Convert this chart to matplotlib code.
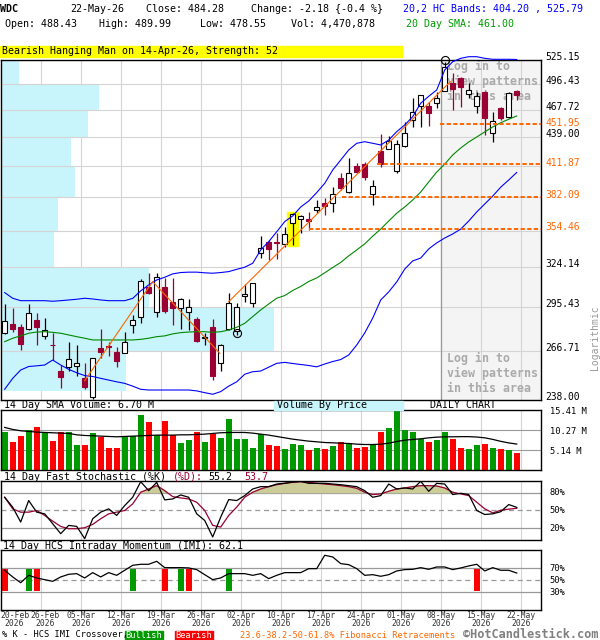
import numpy as np
import matplotlib
matplotlib.use('Agg')
import matplotlib.pyplot as plt
from matplotlib.patches import Rectangle
from matplotlib.ticker import NullLocator
from matplotlib.transforms import blended_transform_factory as blend

# ---- data (WDC daily, 20-Feb-2026 .. 22-May-2026) ----
opens = [278.0, 283.9, 281.9, 280.8, 286.7, 276.3, 270.8, 254.6, 256.9, 257.7,
         250.3, 239.5, 268.7, 269.9, 266.0, 265.8, 283.4, 288.5, 309.4, 291.9,
         309.4, 299.2, 294.7, 291.9, 287.2, 275.0, 282.3, 259.2, 280.6, 279.6,
         303.2, 298.1, 334.9, 344.1, 344.1, 342.3, 359.1, 362.5, 362.5, 370.4,
         376.7, 376.7, 399.3, 386.5, 410.6, 412.2, 384.2, 425.2, 426.9, 405.8,
         430.2, 456.7, 472.2, 472.2, 474.9, 489.0, 498.2, 503.3, 485.3, 471.9,
         487.1, 442.8, 469.2, 459.5, 488.43]
highs = [297.6, 294.7, 283.9, 297.6, 291.2, 287.9, 278.0, 258.2, 272.6, 270.5,
         259.2, 262.5, 280.8, 272.6, 269.1, 278.8, 290.1, 315.2, 319.6, 319.6,
         316.0, 316.0, 302.0, 300.9, 288.5, 278.0, 287.2, 270.9, 305.6, 298.1,
         311.6, 312.3, 348.6, 345.4, 350.8, 356.3, 367.4, 365.8, 368.5, 379.1,
         380.6, 391.0, 403.4, 417.7, 413.5, 414.5, 397.2, 442.1, 440.0, 435.9,
         454.9, 480.4, 484.4, 476.6, 487.9, 523.0, 509.1, 505.2, 497.5, 487.1,
         488.2, 465.0, 470.3, 487.5, 489.99]
lows = [277.6, 279.0, 267.4, 280.3, 270.5, 274.1, 261.2, 244.5, 254.6, 251.4,
        244.0, 238.3, 262.6, 263.7, 257.3, 265.4, 278.0, 284.5, 304.5, 289.0,
        291.2, 283.4, 280.6, 280.1, 272.6, 270.5, 249.3, 254.6, 280.1, 276.9,
        299.2, 295.8, 331.0, 329.7, 330.2, 340.1, 341.4, 351.3, 353.5, 367.6,
        366.2, 369.0, 388.0, 385.0, 403.4, 397.2, 374.8, 409.6, 426.5, 404.1,
        429.2, 449.6, 449.0, 450.4, 469.2, 488.5, 467.5, 471.1, 480.4, 464.6,
        441.0, 434.2, 456.7, 458.5, 478.55]
closes = [286.2, 280.6, 270.9, 291.2, 282.3, 279.9, 270.4, 251.1, 261.6, 259.2,
          245.1, 262.2, 266.4, 269.1, 260.8, 272.2, 286.7, 314.0, 305.1, 317.2,
          293.0, 294.7, 300.9, 295.8, 273.3, 275.6, 251.4, 270.4, 298.1, 295.4,
          304.4, 312.3, 338.8, 338.0, 342.8, 350.0, 366.8, 365.3, 361.1, 373.3,
          373.8, 384.4, 389.5, 403.4, 404.4, 400.3, 391.6, 412.2, 434.9, 431.6,
          442.8, 465.0, 483.7, 463.9, 480.4, 517.1, 490.6, 493.6, 489.8, 482.6,
          458.5, 456.0, 458.5, 486.46, 484.28]

band_upper = [305.6, 301.6, 299.9, 299.9, 299.9, 299.9, 299.5, 299.9, 300.4, 300.9,
              301.6, 301.1, 300.4, 299.9, 299.9, 299.9, 301.5, 306.8, 311.1, 314.7,
              316.7, 319.2, 320.2, 320.5, 320.5, 320.0, 319.7, 320.2, 320.9, 322.6,
              324.2, 327.2, 337.5, 344.1, 352.1, 360.5, 365.3, 373.0, 378.2, 385.7,
              394.1, 406.5, 416.1, 425.9, 432.6, 434.2, 432.6, 430.9, 435.9, 444.5,
              451.5, 460.3, 474.9, 482.6, 489.8, 513.1, 523.1, 527.2, 529.2, 529.2,
              527.2, 526.0, 526.0, 526.0, 525.79]
sma20 = [272.6, 274.8, 276.3, 278.0, 278.8, 279.0, 278.6, 278.0, 276.9, 275.8,
         274.8, 273.7, 273.7, 273.7, 273.7, 273.7, 273.7, 274.1, 274.8, 275.8,
         276.3, 277.6, 278.4, 278.8, 279.0, 279.0, 278.6, 279.0, 280.1, 281.9,
         284.5, 289.0, 293.5, 297.6, 301.6, 303.5, 307.1, 310.0, 313.6, 316.2,
         320.0, 324.0, 327.8, 332.9, 337.5, 342.3, 348.5, 354.3, 361.0, 367.6,
         373.0, 379.1, 386.2, 395.4, 404.6, 412.2, 421.0, 427.9, 433.9, 439.0,
         444.2, 449.4, 453.8, 457.5, 461.0]
band_lower = [244.0, 250.3, 255.2, 257.3, 257.7, 258.2, 261.2, 258.2, 255.6, 253.6,
              251.9, 251.4, 250.3, 249.3, 248.3, 247.4, 245.8, 244.0, 243.6, 243.6,
              243.6, 243.6, 243.6, 243.6, 243.1, 242.1, 241.2, 242.7, 245.8, 248.3,
              252.7, 254.2, 254.6, 256.9, 259.2, 259.8, 259.1, 258.5, 257.9, 257.1,
              258.8, 260.3, 261.5, 264.3, 270.5, 278.2, 288.0, 300.4, 306.1, 313.3,
              322.8, 329.0, 331.2, 338.3, 343.1, 347.0, 350.3, 354.3, 361.0, 368.7,
              375.6, 382.6, 390.6, 397.2, 404.2]

volume_m = [9.84, 7.28, 8.82, 10.27, 11.13, 9.76, 7.53, 9.76, 9.76, 6.42,
            6.42, 9.50, 8.56, 5.65, 5.65, 8.39, 8.73, 14.12, 12.33, 8.90,
            12.58, 8.90, 7.02, 7.70, 9.76, 7.19, 9.24, 8.22, 13.10, 7.96,
            7.96, 5.65, 9.24, 6.42, 6.16, 5.39, 6.68, 6.42, 5.14, 5.65,
            5.39, 6.16, 7.19, 6.93, 5.65, 5.91, 6.76, 9.76, 10.79, 15.15,
            10.27, 9.76, 8.05, 7.19, 7.70, 9.76, 7.96, 5.65, 5.39, 6.42,
            6.68, 5.82, 5.39, 5.14, 4.47]
vol_sma14 = [10.96, 10.44, 10.10, 9.93, 9.76, 9.67, 9.59, 9.50, 9.42, 9.07,
             8.90, 8.82, 8.73, 8.65, 8.56, 8.65, 8.73, 8.82, 8.90, 8.99,
             8.99, 8.99, 9.07, 9.07, 9.16, 9.24, 9.42, 9.59, 9.67, 9.67,
             9.67, 9.50, 9.24, 8.99, 8.65, 8.30, 7.96, 7.70, 7.45, 7.28,
             7.10, 7.02, 6.93, 6.85, 6.68, 6.59, 6.59, 6.68, 6.93, 7.36,
             7.70, 7.88, 8.05, 8.30, 8.47, 8.56, 8.56, 8.60, 8.60, 8.50,
             8.30, 7.90, 7.40, 7.00, 6.70]

stoch_k = [72.2, 55.6, 30.6, 66.7, 47.2, 44.4, 27.8, 11.1, 25.0, 23.3,
           2.8, 36.1, 47.2, 52.8, 41.7, 58.3, 72.2, 98.3, 83.3, 97.2,
           67.8, 69.4, 76.1, 72.2, 44.4, 33.3, 5.6, 38.9, 68.3, 66.7,
           75.0, 86.1, 90.0, 90.0, 94.4, 95.6, 97.8, 98.9, 95.6, 95.6,
           95.6, 94.4, 93.3, 91.7, 90.0, 83.3, 72.2, 75.0, 94.4, 86.1,
           87.8, 86.1, 98.9, 82.2, 95.6, 94.4, 76.7, 78.9, 76.7, 50.0,
           43.3, 44.4, 48.0, 60.0, 55.2]
stoch_d = [72.2, 52.8, 47.2, 47.2, 50.0, 41.7, 32.2, 23.3, 19.4, 19.4,
           21.1, 26.7, 36.1, 44.4, 47.2, 50.0, 61.1, 80.6, 86.1, 91.7,
           83.3, 73.3, 71.1, 69.4, 63.9, 50.0, 25.0, 22.2, 41.7, 55.6,
           72.2, 80.6, 86.1, 90.0, 93.3, 95.6, 97.2, 98.3, 97.2, 95.6,
           94.4, 93.3, 91.7, 90.0, 87.2, 80.6, 76.7, 77.8, 82.2, 86.1,
           87.8, 90.0, 91.7, 91.7, 91.1, 87.8, 80.6, 77.8, 75.0, 63.9,
           52.8, 46.0, 50.5, 52.2, 53.7]

imi = [66.7, 55.6, 46.0, 58.3, 53.9, 51.1, 48.3, 55.6, 60.0, 61.1,
       53.9, 62.8, 55.6, 62.8, 58.3, 66.7, 75.0, 76.7, 76.7, 81.7,
       71.1, 71.1, 71.1, 70.6, 67.8, 59.4, 51.1, 53.9, 61.1, 61.1,
       61.1, 58.3, 61.1, 52.8, 58.3, 62.8, 62.8, 62.8, 69.4, 69.4,
       91.7, 88.9, 77.8, 76.1, 69.4, 58.3, 59.4, 56.7, 59.4, 65.6,
       67.8, 68.3, 71.1, 68.3, 72.2, 72.2, 67.8, 70.6, 73.9, 76.7,
       65.6, 71.1, 66.7, 66.7, 62.1]
bull_cross = [3, 16, 22, 28]
bear_cross = [0, 4, 20, 23, 59]

# volume by price, share of volume per price band (lowest band first)
vbp_share = [12.5, 27.2, 14.8, 5.3, 5.7, 7.4, 7.0, 8.7, 9.8, 1.8]
vbp_low = 243.0

# orange trend lines (bar index, price)
trend_a_x = [10.0, 18.5, 26.9]
trend_a_y = [248.9, 313.5, 265.3]
trend_b_x = [28.0, 55.7]
trend_b_y = [299.2, 499.3]

fib_levels = [451.95, 411.87, 382.09, 354.46]
fib_start = [54.4, 46.5, 42.1, 38.0]

price_labels = [525.15, 496.43, 467.72, 439.00, 324.14, 295.43, 266.71, 238.00]
pattern_idx = 36
circle_pts = [(29, 278.0), (55, 525.15)]

tick_idx = [4, 9, 14, 19, 24, 29, 34, 39, 44, 49, 54, 59, 64]
tick_lbl = ['26-Feb', '05-Mar', '12-Mar', '19-Mar', '26-Mar', '02-Apr', '10-Apr',
            '17-Apr', '24-Apr', '01-May', '08-May', '15-May', '22-May']

# ---- drawing ----
plt.rcParams['font.family'] = ['DejaVu Sans Mono', 'DejaVu Sans']
W, H = 600, 640
fig = plt.figure(figsize=(6, 6.4), dpi=100)

maroon = '#990033'
orange = '#ff6600'
gridc = '#d4d4d4'
panelc = '#999999'
XL = (-0.46, 66.97)

idx = np.arange(len(closes))
o, hi, lo, c = map(np.array, (opens, highs, lows, closes))
up = c >= o
gx = np.array(tick_idx) + 0.5


def box(x0, y0, x1, y1):
    return [x0 / W, 1 - y1 / H, (x1 - x0) / W, (y1 - y0) / H]


def ftext(x, y, s, **kw):
    kw.setdefault('va', 'center')
    kw.setdefault('fontsize', 7.2)
    fig.text(x / W, 1 - y / H, s, **kw)


def clean(a):
    a.tick_params(which='both', left=False, bottom=False,
                  labelleft=False, labelbottom=False)
    a.yaxis.set_minor_locator(NullLocator())
    a.set_xlim(XL)
    for s in a.spines.values():
        s.set_linewidth(1.0)
    for g in gx:
        a.axvline(g, color=gridc, lw=0.8, zorder=0.6)


# main price chart
ax = fig.add_axes(box(1, 60, 540.5, 400))
ax.set_yscale('log')
ax.set_ylim(238, 525.15)
clean(ax)
levels = np.linspace(238, 525.15, 11)
for lv in levels:
    ax.axhline(lv, color=gridc, lw=0.8, zorder=1.5)

edges = levels.copy()
edges[0] = vbp_low
share = np.array(vbp_share)
ax.barh(edges[:-1], share / share.max() * 34.1, height=np.diff(edges),
        left=XL[0], align='edge', color='#c8f4fb', zorder=1)

ax.axvspan(54.5, XL[1], color='#f4f4f4', zorder=0)
ax.axvline(54.5, color='#999999', lw=0.9, zorder=1.6)

for k, line in enumerate(['Log in to', 'view patterns', 'in this area']):
    for y0 in (66.7, 358.7):
        ax.text((447 - 1) / 539.5, 1 - (y0 + 15 * k - 60) / 340, line,
                transform=ax.transAxes, fontsize=8.4, fontweight='bold',
                color='#aaaaaa', va='center', zorder=1.7)

ax.add_patch(Rectangle((pattern_idx - 0.7, lo[pattern_idx] * 0.997), 1.35,
                       hi[pattern_idx] * 1.004 - lo[pattern_idx] * 0.997,
                       color='#ffff00', zorder=2.5))

ax.vlines(idx, lo, hi, colors=np.where(up, 'black', maroon), lw=0.9, zorder=3)
bot = np.minimum(o, c)
ht = np.maximum(np.abs(c - o), np.maximum(o, c) * 0.0015)
ax.bar(idx[up], ht[up], bottom=bot[up], width=0.66, facecolor='white',
       edgecolor='black', lw=0.8, zorder=4)
ax.bar(idx[~up], ht[~up], bottom=bot[~up], width=0.66, facecolor=maroon,
       edgecolor=maroon, lw=0.8, zorder=4)

ax.plot(idx, band_upper, color='#0000ff', lw=0.8, zorder=5, clip_on=False)
ax.plot(idx, band_lower, color='#0000ff', lw=0.8, zorder=5)
ax.plot(idx, sma20, color='#008800', lw=0.8, zorder=5)
ax.plot(trend_a_x, trend_a_y, color=orange, lw=0.8, zorder=5)
ax.plot(trend_b_x, trend_b_y, color=orange, lw=0.8, zorder=5)
for lv, st in zip(fib_levels, fib_start):
    ax.hlines(lv, st, XL[1], colors=orange, lw=1.4, linestyles=(0, (2.2, 1.2)),
              zorder=5)
for px, py in circle_pts:
    ax.plot(px, py, 'o', mfc='none', mec='black', mew=0.8, ms=5.8, zorder=6,
            clip_on=False)

tr_main = blend(fig.transFigure, ax.transData)
for v in price_labels:
    ax.annotate(f'{v:.2f}', xy=(545 / W, v), xycoords=tr_main, xytext=(0, 2.2),
                textcoords='offset points', va='center', fontsize=6.9)
for v in fib_levels:
    ax.annotate(f'{v:.2f}', xy=(545 / W, v), xycoords=tr_main, xytext=(0, 1.1),
                textcoords='offset points', va='center', fontsize=6.9,
                color=orange)
ftext(595, 338, 'Logarithmic', rotation=90, ha='center', color='#999999',
      fontsize=7.0)

# volume panel
axv = fig.add_axes(box(1, 410, 540.5, 470.3))
axv.set_ylim(0, 15.41)
clean(axv)
for lv in (5.14, 10.27):
    axv.axhline(lv, color=panelc, lw=0.8, zorder=0.7)
axv.bar(idx, volume_m, width=0.72, color=np.where(up, '#009900', '#ff0000'),
        zorder=2)
axv.plot(idx, vol_sma14, color='black', lw=0.9, zorder=3)
tr_vol = blend(fig.transFigure, axv.transData)
for v in (15.41, 10.27, 5.14):
    axv.annotate(f'{v:.2f} M', xy=(550 / W, v), xycoords=tr_vol,
                 xytext=(0, -1.2), textcoords='offset points', va='center',
                 fontsize=6.3)

# stochastic panel
axs = fig.add_axes(box(1, 480.7, 540.5, 540.3))
axs.set_ylim(0, 100)
clean(axs)
axs.axhline(80, color=panelc, lw=0.9, zorder=0.7)
axs.axhline(20, color=panelc, lw=0.9, zorder=0.7)
axs.axhline(50, color=panelc, lw=0.9, ls=(0, (4, 3)), zorder=0.7)
sd = np.array(stoch_d)
axs.fill_between(idx, 80, sd, where=sd >= 80, interpolate=True,
                 color='#cccc99', zorder=1)
axs.plot(idx, stoch_k, color='black', lw=0.9, zorder=3)
axs.plot(idx, stoch_d, color=maroon, lw=0.9, zorder=2)
tr_s = blend(fig.transFigure, axs.transData)
for v in (80, 50, 20):
    axs.text(549 / W, v, f'{v}%', transform=tr_s, va='center', fontsize=6.3)

# IMI panel
axi = fig.add_axes(box(1, 550.3, 540.5, 610.3))
axi.set_ylim(0, 100)
clean(axi)
axi.axhline(70, color=panelc, lw=0.9, zorder=0.7)
axi.axhline(30, color=panelc, lw=0.9, zorder=0.7)
axi.axhline(50, color=panelc, lw=0.9, ls=(0, (4, 3)), zorder=0.7)
axi.bar(bull_cross, 36, bottom=32, width=0.75, color='#009900', zorder=2)
axi.bar(bear_cross, 36, bottom=32, width=0.75, color='#ff0000', zorder=2)
axi.plot(idx, imi, color='black', lw=0.9, zorder=3)
tr_i = blend(fig.transFigure, axi.transData)
for v in (70, 50, 30):
    axi.text(549 / W, v, f'{v}%', transform=tr_i, va='center', fontsize=6.3)

tr_d = blend(axi.transData, fig.transFigure)
for k, (t, lbl) in enumerate(zip(gx, tick_lbl)):
    xo = t + (0.6 if k == 0 else 0)
    axi.text(xo, 1 - 616 / H, lbl, transform=tr_d, ha='center', va='center',
             fontsize=5.8, color='#333333')
    axi.text(xo, 1 - 624 / H, '2026', transform=tr_d, ha='center', va='center',
             fontsize=5.8, color='#333333')
ftext(0, 616, '20-Feb', fontsize=5.8, color='#333333')
ftext(4, 624, '2026', fontsize=5.8, color='#333333')

# header and panel titles
ftext(0, 9, 'WDC', fontweight='bold')
ftext(70, 9, '22-May-26')
ftext(146, 9, 'Close: 484.28')
ftext(251, 9, 'Change: -2.18 {-0.4 %}')
ftext(403, 9, '20,2 HC Bands: 404.20 , 525.79', color='#0000ff')
ftext(5, 24, 'Open: 488.43')
ftext(99, 24, 'High: 489.99')
ftext(200, 24, 'Low: 478.55')
ftext(291, 24, 'Vol: 4,470,878')
ftext(406, 24, '20 Day SMA: 461.00', color='#009900')

fig.patches.append(Rectangle((0, 1 - 56.7 / H), 402 / W, 11 / H,
                             transform=fig.transFigure, color='#ffff00'))
ftext(2, 51.5, 'Bearish Hanging Man on 14-Apr-26, Strength: 52')

ftext(4, 405, '14 Day SMA Volume: 6.70 M')
fig.patches.append(Rectangle((274 / W, 1 - 410 / H), 129 / W, 9.5 / H,
                             transform=fig.transFigure, color='#c8f4fb'))
ftext(277, 405.5, 'Volume By Price')
ftext(430, 405.5, 'DAILY CHART')

cw = 6.02  # monospace advance in px at 7.2 pt
ftext(4, 476.5, '14 Day Fast Stochastic (%K)')
ftext(4 + 28 * cw, 476.5, '(%D):', color=maroon)
ftext(4 + 34 * cw, 476.5, '55.2')
ftext(4 + 40 * cw, 476.5, '53.7', color=maroon)
ftext(3, 546, '14 Day HCS Intraday Momentum (IMI): 62.1')

# footer
ftext(2, 635, '% K - HCS IMI Crossover,', fontsize=6.2)
fig.patches.append(Rectangle((125 / W, 1 - 639.5 / H), 38 / W, 9 / H,
                             transform=fig.transFigure, color='#009900'))
fig.patches.append(Rectangle((175 / W, 1 - 639.5 / H), 38 / W, 9 / H,
                             transform=fig.transFigure, color='#ff0000'))
ftext(144, 635, 'Bullish', ha='center', color='white', fontsize=6.2)
ftext(194, 635, 'Bearish', ha='center', color='white', fontsize=6.2)
ftext(240, 635, '23.6-38.2-50-61.8% Fibonacci Retracements', color=orange,
      fontsize=6.2)
ftext(463, 634.5, '\u00a9HotCandlestick.com', color='#808080', fontsize=8.6,
      fontweight='bold')

fig.savefig('out.png', dpi=100, facecolor='white')
